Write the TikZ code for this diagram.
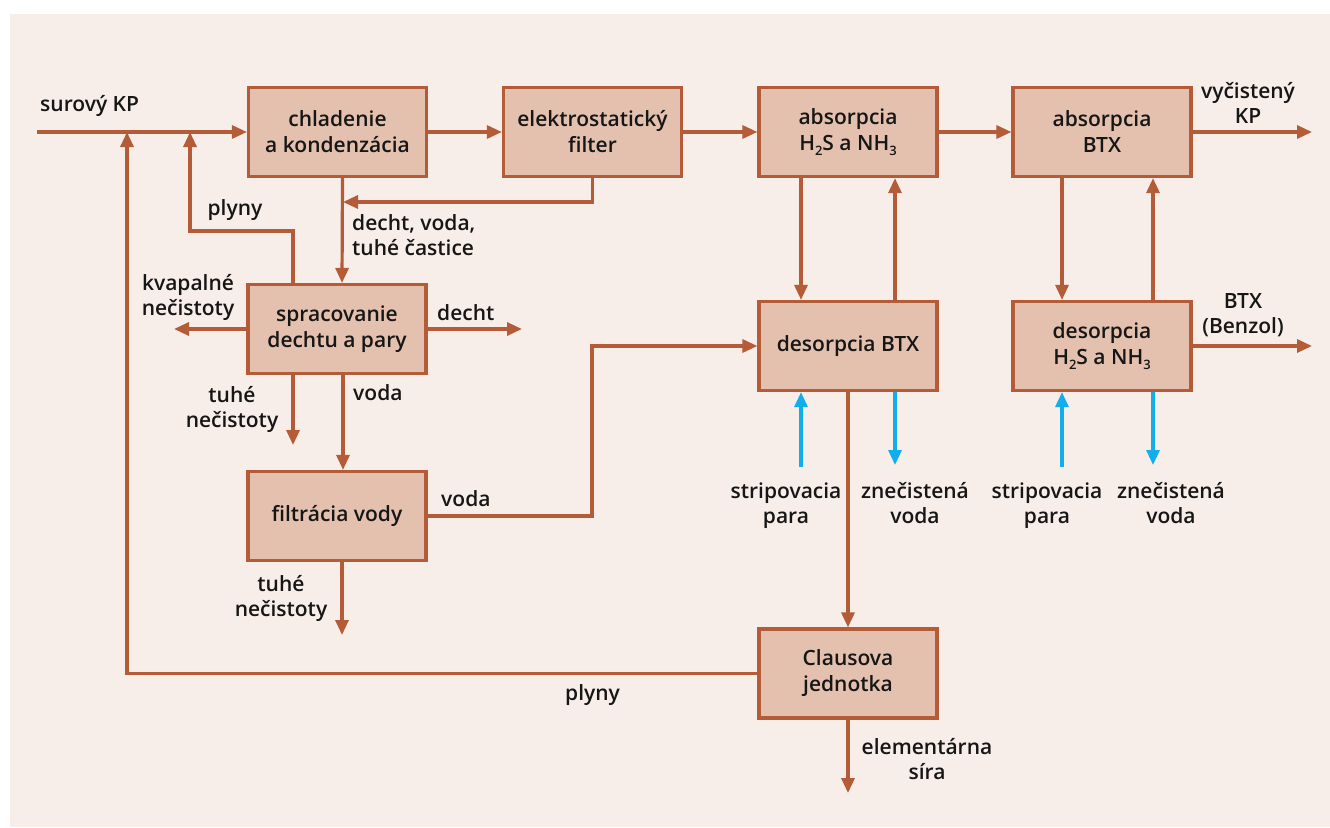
\documentclass[tikz,border=0pt]{standalone}
\usepackage{fontspec}
\IfFontExistsTF{Open Sans SemiBold}{\setmainfont{Open Sans SemiBold}}{%
  \IfFontExistsTF{Open Sans Semibold}{\setmainfont{Open Sans Semibold}}{%
    \setmainfont{Open Sans}[FakeBold=1.4]}}
\usetikzlibrary{arrows.meta}
\definecolor{paper}{RGB}{248,238,233}
\definecolor{boxfill}{RGB}{227,193,174}
\definecolor{brick}{RGB}{180,92,56}
\definecolor{steamblue}{RGB}{18,174,236}
\definecolor{ink}{RGB}{22,22,22}
% chemical index: small digit set low under the baseline
\newcommand{\chemidx}[1]{\raisebox{-0.45ex}{\fontsize{13}{13}\selectfont #1}}
\tikzset{
  proc/.style={draw=brick, fill=boxfill, line width=3.2pt, minimum width=178pt,
    minimum height=89pt, inner sep=0pt, align=center, text=ink,
    font=\fontsize{21}{26}\selectfont},
  flow/.style={draw=brick, line width=3.2pt, -{Triangle[length=15pt,width=13pt]}},
  steam/.style={draw=steamblue, line width=3.2pt, -{Triangle[length=15pt,width=13pt]}},
  lbl/.style={inner sep=0pt, text=ink, font=\fontsize{21}{24.5}\selectfont},
}
\begin{document}
\begin{tikzpicture}[x=1pt, y=-1pt]
  \useasboundingbox (0,0) rectangle (1330,827);
  \fill[paper] (10,14) rectangle (1330,827);

  % process units
  \node[proc] (b1) at (337.5,132) {chladenie\\a kondenzácia};
  \node[proc] (b2) at (592.5,132) {elektrostatický\\filter};
  \node[proc] (b3) at (848,132) {absorpcia\\H\chemidx{2}S a NH\chemidx{3}};
  \node[proc] (b4) at (1102,132) {absorpcia\\BTX};
  \node[proc] (b5) at (337,329) {spracovanie\\dechtu a pary};
  \node[proc] (b6) at (848,346) {desorpcia BTX};
  \node[proc] (b7) at (1102,346) {desorpcia\\H\chemidx{2}S a NH\chemidx{3}};
  \node[proc] (b8) at (337,516) {filtrácia vody};
  \node[proc] (b9) at (848,673.5) {Clausova\\jednotka};

  % free ends and bends
  \coordinate (gasin) at (37,132);
  \coordinate (gasout) at (1312,132);
  \coordinate (tarjoin) at (343,202);
  \coordinate (gasbend) at (190,231);
  \coordinate (clausbend) at (127,132);
  \coordinate (liqout) at (174,329);
  \coordinate (tarout) at (522,329);
  \coordinate (solout1) at (293,445);
  \coordinate (solout2) at (342,635);
  \coordinate (waterbend) at (592,346);
  \coordinate (sulfur) at (848,793);
  \coordinate (benzol) at (1312,346);
  \coordinate (steam1) at (801,467);
  \coordinate (waste1) at (895,465);
  \coordinate (steam2) at (1062,467);
  \coordinate (waste2) at (1153,465);

  % main gas line
  \draw[flow] (gasin) -- (b1.west);
  \draw[flow] (b1.east) -- (b2.west);
  \draw[flow] (b2.east) -- (b3.west);
  \draw[flow] (b3.east) -- (b4.west);
  \draw[flow] (b4.east) -- (gasout);

  % condensate side
  \draw[flow] (b2.south) |- (tarjoin);
  \draw[flow] ([xshift=5pt]b1.south) -- ([xshift=5pt]b5.north);
  \draw[flow] ([xshift=-44pt]b5.north) |- (gasbend) -- (gasbend |- gasin);
  \draw[flow] (b5.west) -- (liqout);
  \draw[flow] (b5.east) -- (tarout);
  \draw[flow] ([xshift=-44pt]b5.south) -- (solout1);
  \draw[flow] ([xshift=6pt]b5.south) -- ([xshift=6pt]b8.north);
  \draw[flow] ([xshift=5pt]b8.south) -- (solout2);
  \draw[flow] (b8.east) -| (waterbend) -- (b6.west);

  % absorption / desorption loops
  \draw[flow] ([xshift=-47pt]b3.south) -- ([xshift=-47pt]b6.north);
  \draw[flow] ([xshift=47pt]b6.north) -- ([xshift=47pt]b3.south);
  \draw[flow] ([xshift=-40pt]b4.south) -- ([xshift=-40pt]b7.north);
  \draw[flow] ([xshift=51pt]b7.north) -- ([xshift=51pt]b4.south);
  \draw[flow] (b6.south) -- (b9.north);
  \draw[flow] (b9.south) -- (sulfur);
  \draw[flow] (b7.east) -- (benzol);
  \draw[flow] (b9.west) -| (clausbend);

  % stripping steam and waste water
  \draw[steam] (steam1) -- (steam1 |- b6.south);
  \draw[steam] (waste1 |- b6.south) -- (waste1);
  \draw[steam] (steam2) -- (steam2 |- b7.south);
  \draw[steam] (waste2 |- b7.south) -- (waste2);

  % stream labels (multi-line labels sit on the baseline of their last line)
  \node[lbl, anchor=base west] (l1) at (40,111) {surový KP};
  \node[lbl, anchor=base, align=center] (l2) at (1248,123) {vyčistený\\KP};
  \node[lbl, anchor=base] (l3) at (235,215) {plyny};
  \node[lbl, anchor=base west, align=left] (l4) at (352,255) {decht, voda,\\tuhé častice};
  \node[lbl, anchor=base, align=center] (l5) at (188,315) {kvapalné\\nečistoty};
  \node[lbl, anchor=base west] (l6) at (437,320) {decht};
  \node[lbl, anchor=base, align=center] (l7) at (232,427) {tuhé\\nečistoty};
  \node[lbl, anchor=base west] (l8) at (353,400) {voda};
  \node[lbl, anchor=base west] (l9) at (441,506) {voda};
  \node[lbl, anchor=base, align=center] (l10) at (281,616) {tuhé\\nečistoty};
  \node[lbl, anchor=base west] (l11) at (565,700) {plyny};
  \node[lbl, anchor=base, align=center] (l12) at (927,779) {elementárna\\síra};
  \node[lbl, anchor=base, align=center] (l13) at (786,523) {stripovacia\\para};
  \node[lbl, anchor=base, align=center] (l14) at (915,523) {znečistená\\voda};
  \node[lbl, anchor=base, align=center] (l15) at (1047,523) {stripovacia\\para};
  \node[lbl, anchor=base, align=center] (l16) at (1171,523) {znečistená\\voda};
  \node[lbl, anchor=base, align=center] (l17) at (1243,333) {BTX\\(Benzol)};
\end{tikzpicture}
\end{document}
